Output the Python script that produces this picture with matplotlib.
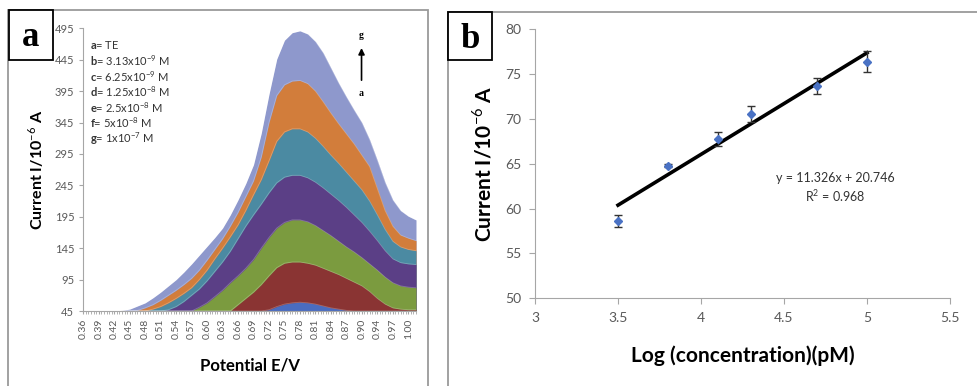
import matplotlib
matplotlib.use("Agg")
import matplotlib.pyplot as plt
from matplotlib.patches import Rectangle
from matplotlib.ticker import MultipleLocator
import numpy as np

plt.rcParams['font.family'] = ['Lato', 'DejaVu Sans']
plt.rcParams['mathtext.fontset'] = 'custom'
plt.rcParams['mathtext.rm'] = 'Lato'
plt.rcParams['mathtext.bf'] = 'Lato:bold'

# ---- panel a: DPV curves (Excel area chart, categorical x) ----
potential_labels = ["0.36", "0.39", "0.42", "0.45", "0.48", "0.51", "0.54", "0.57",
                    "0.60", "0.63", "0.66", "0.69", "0.72", "0.75", "0.78", "0.81",
                    "0.84", "0.87", "0.90", "0.94", "0.97", "1.00"]
# category index of each sample: every 3rd category, a label every 6, last category 129
sample_cat = list(range(0, 130, 3))

curve_g = [45, 45, 45, 45, 45, 46, 48, 53, 58, 66,
           75, 85, 95, 107, 120, 134, 148, 162, 177, 198,
           222, 248, 278, 328, 390, 446, 476, 488, 491, 486,
           474, 456, 432, 408, 386, 365, 345, 318, 285, 250,
           222, 205, 196, 190]
curve_f = [45, 45, 45, 45, 45, 45, 45, 46, 50, 55,
           62, 70, 78, 87, 97, 110, 126, 143, 160, 180,
           202, 227, 252, 290, 345, 388, 405, 411, 412, 407,
           395, 378, 360, 343, 327, 311, 293, 275, 240, 205,
           180, 166, 161, 157]
curve_e = [45, 45, 45, 45, 45, 45, 45, 45, 45, 48,
           52, 58, 65, 73, 82, 95, 110, 128, 145, 163,
           182, 205, 230, 254, 284, 315, 330, 335, 335, 330,
           320, 307, 293, 280, 266, 252, 238, 220, 198, 175,
           156, 147, 143, 141]
curve_d = [45, 45, 45, 45, 45, 45, 45, 45, 45, 45,
           45, 47, 52, 60, 70, 80, 93, 108, 123, 140,
           160, 180, 198, 215, 233, 249, 258, 261, 261, 257,
           250, 241, 231, 221, 210, 198, 186, 172, 157, 141,
           128, 122, 120, 119]
curve_c = [45, 45, 45, 45, 45, 45, 45, 45, 45, 45,
           45, 45, 45, 45, 45, 51, 58, 68, 78, 90,
           101, 113, 127, 145, 162, 177, 186, 190, 190, 187,
           181, 173, 165, 156, 147, 139, 130, 120, 110, 99,
           90, 85, 83, 82]
curve_b = [45, 45, 45, 45, 45, 45, 45, 45, 45, 45,
           45, 45, 45, 45, 45, 45, 45, 45, 45, 45,
           55, 65, 75, 87, 101, 114, 121, 123, 123, 121,
           118, 113, 108, 103, 97, 91, 85, 76, 65, 56,
           50, 48, 47, 47]
curve_a = [45, 45, 45, 45, 45, 45, 45, 45, 45, 45,
           45, 45, 45, 45, 45, 45, 45, 45, 45, 45,
           45, 45, 45, 45, 47, 52, 56, 58, 59, 58,
           56, 53, 50, 48, 46, 45, 45, 45, 45, 45,
           45, 45, 45, 45]

curves = [curve_g, curve_f, curve_e, curve_d, curve_c, curve_b, curve_a]
curve_colors = ["#8e98cc", "#d27d3b", "#4b8aa2", "#5b3f86", "#7b9b3f", "#8a3433", "#4a6cc0"]

legend_lines = [r"$\mathbf{a}$= TE",
                r"$\mathbf{b}$= 3.13x10$^{-9}$ M",
                r"$\mathbf{c}$= 6.25x10$^{-9}$ M",
                r"$\mathbf{d}$= 1.25x10$^{-8}$ M",
                r"$\mathbf{e}$= 2.5x10$^{-8}$ M",
                r"$\mathbf{f}$= 5x10$^{-8}$ M",
                r"$\mathbf{g}$= 1x10$^{-7}$ M"]

# ---- panel b: calibration ----
log_conc = [3.5, 3.8, 4.1, 4.3, 4.7, 5.0]
current = [58.6, 64.8, 67.8, 70.6, 73.7, 76.4]
current_err = [0.65, 0.15, 0.8, 0.9, 0.9, 1.15]
slope, intercept = 11.326, 20.746

W, H = 977, 386
fig = plt.figure(figsize=(W / 100, H / 100), dpi=100)


def fx(x):
    return x / W


def fy(y):
    return 1 - y / H


GRAY = "#595959"
AX_GRAY = "#a6a6a6"

# outer frames + panel letters
fig.patches.append(Rectangle((fx(8), fy(392)), fx(420), 382 / H, transform=fig.transFigure,
                             fill=False, edgecolor="#9a9a9a", lw=1.3))
fig.patches.append(Rectangle((fx(448), fy(392)), fx(560), 380 / H, transform=fig.transFigure,
                             fill=False, edgecolor="#9a9a9a", lw=1.3))
for (x0, y0, x1, y1, letter) in [(9, 10, 53, 60, "a"), (448, 12, 492, 60, "b")]:
    fig.patches.append(Rectangle((fx(x0), fy(y1)), fx(x1 - x0), (y1 - y0) / H,
                                 transform=fig.transFigure, facecolor="white",
                                 edgecolor="black", lw=1.3, zorder=5))
    fig.text(fx((x0 + x1) / 2), fy((y0 + y1) / 2 + 3), letter, ha="center", va="center",
             fontsize=25, fontweight="bold", family="Liberation Serif", zorder=6)

# ---- panel a ----
ax1 = fig.add_axes([fx(83.3), fy(311), fx(416 - 83.3), (311 - 28.3) / H])
xs = np.array(sample_cat) / 6.0
for vals, col in zip(curves, curve_colors):
    ax1.fill_between(xs, 45, vals, color=col, lw=0, zorder=2)
    ax1.plot(xs, vals, color="white", alpha=0.25, lw=0.6, zorder=2)
ax1.set_xlim(0, 21.5)
ax1.set_ylim(45, 495)
ax1.set_yticks(np.arange(45, 496, 50))
ax1.set_xticks(np.arange(len(potential_labels)))
ax1.set_xticklabels(potential_labels, rotation=90, fontsize=7.5, color=GRAY)
ax1.xaxis.set_minor_locator(MultipleLocator(1 / 6))
ax1.tick_params(axis="x", which="both", length=2.5, color=AX_GRAY, pad=3)
ax1.tick_params(axis="y", labelsize=8, colors=GRAY, length=3)
ax1.tick_params(axis="y", color=AX_GRAY)
for s in ["top", "right"]:
    ax1.spines[s].set_visible(False)
for s in ["left", "bottom"]:
    ax1.spines[s].set_color(AX_GRAY)
ax1.set_xlabel("Potential E/V", fontsize=12, fontweight="bold", labelpad=13)
ax1.set_ylabel("Current I/10$^{-6}$ A", fontsize=11.5, fontweight="bold", labelpad=6)

for i, line in enumerate(legend_lines):
    ax1.text(0.02, 0.94 - i * 0.0548, line, transform=ax1.transAxes, fontsize=8,
             color="#333333", va="center")

ax1.annotate("", xy=(17.98, 468), xytext=(17.98, 408),
             arrowprops=dict(arrowstyle="-|>", color="black", lw=1.2, mutation_scale=9))
ax1.text(17.98, 484, "g", ha="center", va="center", fontsize=7, fontweight="bold",
         family="Liberation Serif")
ax1.text(17.98, 392, "a", ha="center", va="center", fontsize=7, fontweight="bold",
         family="Liberation Serif")

# ---- panel b ----
ax2 = fig.add_axes([fx(535), fy(298.3), fx(950 - 535), (298.3 - 29.3) / H])
fit_x = np.array([log_conc[0], log_conc[-1]])
ax2.plot(fit_x, slope * fit_x + intercept, color="black", lw=2.6, zorder=2)
ax2.errorbar(log_conc, current, yerr=current_err, fmt="D", color="#4a72c4", ms=4.5,
             ecolor="#333333", elinewidth=1, capsize=3, capthick=1, zorder=3)
ax2.set_xlim(3, 5.5)
ax2.set_ylim(50, 80)
ax2.set_xticks(np.arange(3, 5.51, 0.5))
ax2.set_xticklabels(["3", "3.5", "4", "4.5", "5", "5.5"])
ax2.set_yticks(np.arange(50, 81, 5))
ax2.tick_params(labelsize=10, colors=GRAY, length=4, pad=6)
ax2.tick_params(color=AX_GRAY)
for s in ["top", "right"]:
    ax2.spines[s].set_visible(False)
for s in ["left", "bottom"]:
    ax2.spines[s].set_color(AX_GRAY)
ax2.set_xlabel("Log (concentration)(pM)", fontsize=15, fontweight="bold", labelpad=15)
ax2.set_ylabel("Current I/10$^{-6}$ A", fontsize=15, fontweight="bold", labelpad=7)
ax2.text(4.81, 62.3, "y = 11.326x + 20.746\nR$^2$ = 0.968", ha="center", va="center",
         fontsize=9, color="#333333", linespacing=1.3)

fig.savefig("out.png", dpi=100)
